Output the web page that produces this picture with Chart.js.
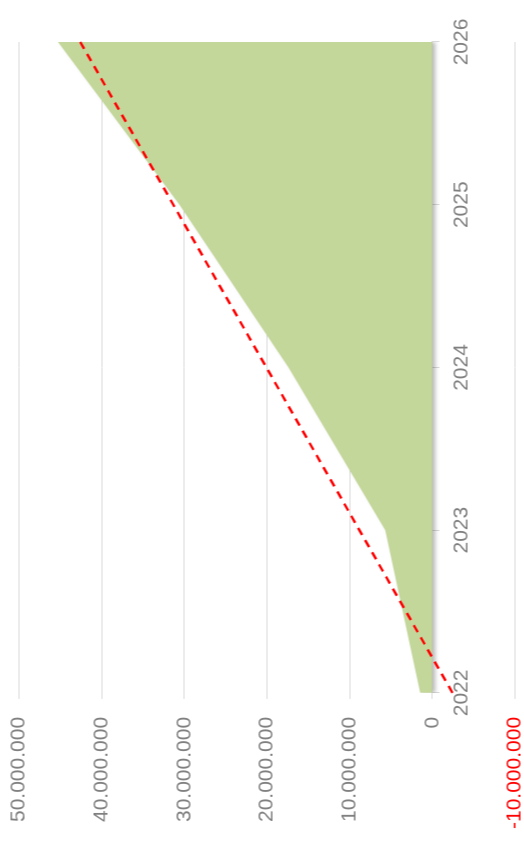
<!DOCTYPE html>
<html>
<head>
<meta charset="utf-8">
<script src="https://cdn.jsdelivr.net/npm/chart.js@4.4.1/dist/chart.umd.min.js"></script>
<style>
  html, body { margin: 0; padding: 0; background: #fff; overflow: hidden; }
  /* chart is drawn landscape, then turned a quarter left to stand up */
  #wrap {
    position: absolute; left: 0; top: 0;
    width: 850px; height: 557px;
    transform-origin: 0 0;
    transform: translate(-11.5px, 850px) rotate(-90deg);
  }
</style>
</head>
<body>
<div id="wrap"><canvas id="areaChart"></canvas></div>
<script>
// data
const years = ['2022', '2023', '2024', '2025', '2026'];
const totals = [1450000, 5700000, 17400000, 30600000, 45300000];
// linear trend, first and last point only
const trend = [-2450000, null, null, null, 42600000];

const fmt = v => String(v).replace(/\B(?=(\d{3})+(?!\d))/g, '.');

// soft shadow under the green area
const areaShadow = {
    id: 'areaShadow',
    beforeDatasetsDraw(chart) {
        const ctx = chart.ctx;
        ctx.save();
        ctx.shadowColor = 'rgba(0,0,0,0.28)';
        ctx.shadowBlur = 4;
        ctx.shadowOffsetY = 3;
    },
    afterDatasetDraw(chart, args) {
        if (args.index === 0) chart.ctx.restore();
    }
};

Chart.defaults.font.family = '"Liberation Sans", Arial, sans-serif';
Chart.defaults.font.size = 21;

const config = {
    type: 'line',
    data: {
        labels: years,
        datasets: [{
            label: 'Total',
            data: totals,
            fill: 'origin',
            backgroundColor: '#C4D79B',
            borderWidth: 0,
            pointRadius: 0,
            tension: 0,
            order: 1
        }, {
            label: 'Trend',
            data: trend,
            spanGaps: true,
            fill: false,
            borderColor: '#FF0000',
            borderWidth: 2.5,
            borderDash: [8, 6],
            pointRadius: 0,
            order: 0
        }]
    },
    options: {
        responsive: true,
        maintainAspectRatio: false,
        animation: false,
        layout: { padding: { left: 3, right: 42, top: 8, bottom: 2 } },
        plugins: {
            legend: { display: false },
            tooltip: { enabled: false }
        },
        scales: {
            x: {
                position: { y: 0 },
                offset: false,
                grid: { drawOnChartArea: false, color: '#d9d9d9', tickLength: 7 },
                border: { display: true, color: '#d9d9d9', width: 1 },
                ticks: { color: '#808080', padding: 10, maxRotation: 0 }
            },
            y: {
                min: -10000000,
                max: 50000000,
                grid: { color: '#d9d9d9', tickLength: 6 },
                border: { display: false },
                ticks: {
                    stepSize: 10000000,
                    padding: 18,
                    callback: v => fmt(v),
                    color: c => c.tick && c.tick.value < 0 ? '#FF0000' : '#808080'
                }
            }
        }
    },
    plugins: [areaShadow]
};

const chart = new Chart(document.getElementById('areaChart'), config);
</script>
</body>
</html>
